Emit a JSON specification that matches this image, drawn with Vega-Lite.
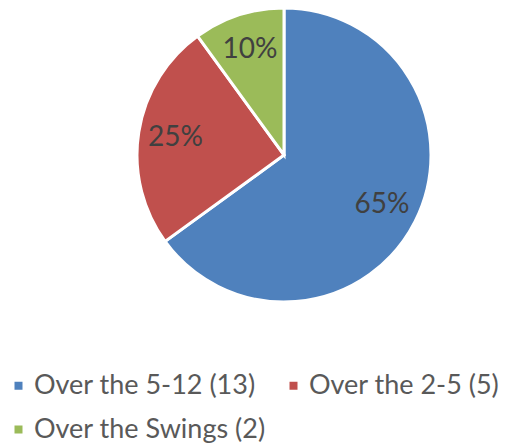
{
  "$schema": "https://vega.github.io/schema/vega-lite/v6.json",
  "width": 294,
  "height": 294,
  "autosize": "none",
  "padding": {"left": 137, "top": 8, "right": 88, "bottom": 142},
  "background": "white",
  "data": {
    "values": [
      {"label": "Over the 5-12 (13)", "value": 13, "pct": "65%", "idx": 1},
      {"label": "Over the 2-5 (5)", "value": 5, "pct": "25%", "idx": 2},
      {"label": "Over the Swings (2)", "value": 2, "pct": "10%", "idx": 3}
    ]
  },
  "config": {"view": {"stroke": null}, "font": "Lato"},
  "layer": [
    {
      "mark": {"type": "arc", "outerRadius": 147, "stroke": "white", "strokeWidth": 3},
      "encoding": {
        "theta": {"field": "value", "type": "quantitative", "stack": true},
        "order": {"field": "idx", "type": "quantitative", "sort": "ascending"},
        "color": {
          "field": "label",
          "type": "nominal",
          "sort": ["Over the 5-12 (13)", "Over the 2-5 (5)", "Over the Swings (2)"],
          "scale": {
            "domain": ["Over the 5-12 (13)", "Over the 2-5 (5)", "Over the Swings (2)"],
            "range": ["#4F81BD", "#C0504D", "#9BBB59"]
          },
          "legend": {
            "title": null,
            "orient": "none",
            "legendX": -132,
            "legendY": 364,
            "padding": 0,
            "direction": "horizontal",
            "columns": 2,
            "symbolType": "square",
            "symbolSize": 64,
            "symbolStrokeWidth": 0,
            "labelFontSize": 27,
            "labelFont": "Lato",
            "labelColor": "#595959",
            "labelOffset": 2,
            "labelLimit": 400,
            "columnPadding": 14,
            "rowPadding": 16
          }
        }
      }
    },
    {
      "mark": {"type": "text", "radius": 110, "fontSize": 28, "font": "Lato", "color": "#404040", "align": "center", "baseline": "middle"},
      "encoding": {
        "theta": {"field": "value", "type": "quantitative", "stack": true},
        "order": {"field": "idx", "type": "quantitative", "sort": "ascending"},
        "detail": {"field": "label", "type": "nominal"},
        "text": {"field": "pct", "type": "nominal"}
      }
    }
  ]
}
